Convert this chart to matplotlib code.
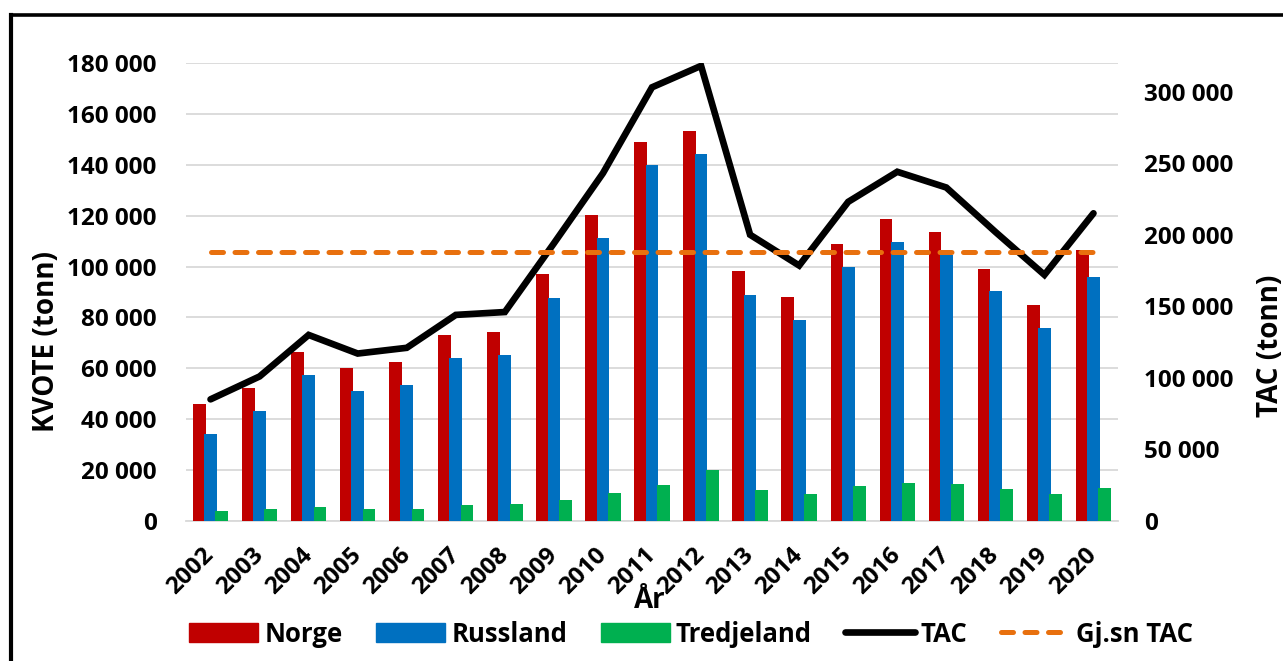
import matplotlib
matplotlib.use("Agg")
import matplotlib.pyplot as plt
from matplotlib.lines import Line2D
from matplotlib.patches import Patch
import numpy as np

plt.rcParams['font.family'] = ['Open Sans', 'DejaVu Sans']
plt.rcParams['font.weight'] = 'bold'

years = [str(y) for y in range(2002, 2021)]
norge = [46000, 52100, 66300, 60100, 62500, 73100, 74300, 96900, 120100, 148800,
         153300, 98100, 88000, 108800, 118600, 113600, 99100, 85000, 106400]
russland = [34000, 43200, 57200, 51100, 53400, 64100, 65300, 87800, 111200, 139800,
            144300, 88900, 78800, 99800, 109600, 104400, 90200, 75800, 95800]
tredjeland = [4100, 4600, 5500, 4800, 4800, 6400, 6600, 8400, 10900, 14000,
              20100, 12200, 10800, 13800, 15100, 14400, 12500, 10500, 13100]
tac = [85000, 101000, 130000, 117000, 121000, 144000, 146000, 194000, 243000, 303000,
       318000, 200000, 178500, 223000, 244000, 233000, 202000, 172000, 215000]
gjsn_tac = 187800

left_ticks = [0, 20000, 40000, 60000, 80000, 100000, 120000, 140000, 160000, 180000]
right_ticks = [0, 50000, 100000, 150000, 200000, 250000, 300000]

def fmt(v):
    return f"{v:,}".replace(",", " ")

W, H = 1283, 661
FS = 17.5
FT = 20
FL = 18.5
fig = plt.figure(figsize=(W / 100, H / 100), dpi=100)

ax = fig.add_axes([186 / W, 1 - 521 / H, (1118 - 186) / W, (521 - 63) / H])
ax2 = ax.twinx()

x = np.arange(len(years))
bw = 0.26
off = 0.23
c_red, c_blue, c_green = '#C00000', '#0070C0', '#00B050'
ax.bar(x - off, norge, bw, color=c_red, zorder=3)
ax.bar(x, russland, bw, color=c_blue, zorder=3)
ax.bar(x + off, tredjeland, bw, color=c_green, zorder=3)

ax.set_xlim(-0.5, len(years) - 0.5)
ax.set_ylim(0, 180000)
ax.set_yticks(left_ticks)
ax.set_yticklabels([fmt(v) for v in left_ticks], fontsize=FS, fontweight='bold')
ax.yaxis.grid(True, color='#D9D9D9', lw=1.3, zorder=0)
ax.set_axisbelow(True)
ax.tick_params(axis='y', length=0, pad=21)
ax.tick_params(axis='x', length=0, pad=22)
ax.set_xticks(x)
ax.set_xticklabels(years, rotation=45, ha='right', va='center', rotation_mode='anchor',
                   fontsize=FS, fontweight='bold')
for lbl in ax.get_xticklabels():
    lbl.set_x(lbl.get_position()[0])
for s in ['top', 'right', 'left']:
    ax.spines[s].set_visible(False)
ax.spines['bottom'].set_color('#D9D9D9')
ax.spines['bottom'].set_linewidth(1.3)

ax2.plot(x, tac, color='black', lw=4.8, solid_joinstyle='miter', solid_capstyle='round', zorder=4)
ax2.plot([x[0], x[-1]], [gjsn_tac, gjsn_tac], color='#E8700E', lw=3.6,
         dashes=(2.4, 2.3), dash_capstyle='round', zorder=5)
ax2.set_ylim(0, 320000)
ax2.set_yticks(right_ticks)
ax2.set_yticklabels([fmt(v) for v in right_ticks], fontsize=FS, fontweight='bold')
ax2.tick_params(axis='y', length=0, pad=19)
for s in ax2.spines.values():
    s.set_visible(False)

fig.text(47 / W, 1 - 341 / H, 'KVOTE (tonn)', rotation=90, ha='center', va='center',
         fontsize=FT, fontweight='bold')
fig.text(1270 / W, 1 - 346 / H, 'TAC (tonn)', rotation=90, ha='center', va='center',
         fontsize=FT, fontweight='bold')
fig.text(650 / W, 1 - 600 / H, 'År', ha='center', va='center', fontsize=FT, fontweight='bold')

handles = [Patch(color=c_red), Patch(color=c_blue), Patch(color=c_green),
           Line2D([], [], color='black', lw=4.8, solid_capstyle='round'),
           Line2D([], [], color='#E8700E', lw=3.6, dashes=(2.4, 2.3), dash_capstyle='round')]
labels = ['Norge', 'Russland', 'Tredjeland', 'TAC', 'Gj.sn TAC']
fig.legend(handles, labels, loc='center', bbox_to_anchor=(691 / W, 1 - 634 / H), ncol=5,
           frameon=False, handlelength=2.7, handleheight=0.72,
           handletextpad=0.23, columnspacing=1.3, prop={'weight': 'bold', 'size': FL})

# outer frame
fig.add_artist(Line2D([10.5 / W, 10.5 / W], [0, 1 - 15 / H], color='black', lw=3,
                      transform=fig.transFigure, solid_capstyle='projecting'))
fig.add_artist(Line2D([10.5 / W, 1.0], [1 - 15 / H, 1 - 15 / H], color='black', lw=2.6,
                      transform=fig.transFigure, solid_capstyle='projecting'))

fig.savefig('out.png', dpi=100)
